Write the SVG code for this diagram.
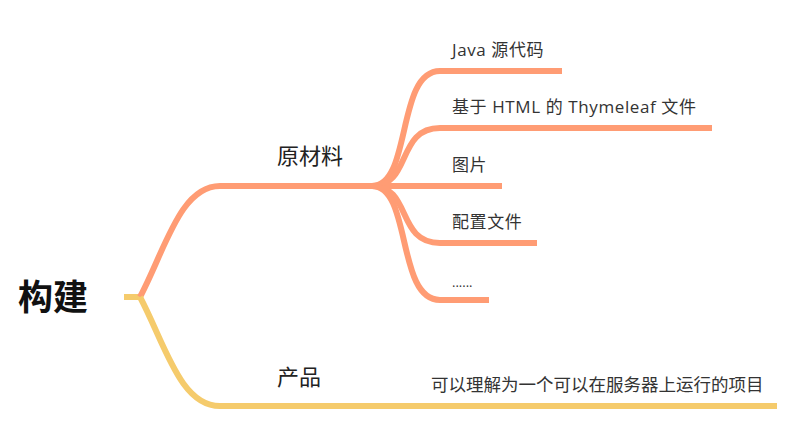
<svg xmlns="http://www.w3.org/2000/svg" width="789" height="429" viewBox="0 0 789 429">
<style>
.o{fill:none;stroke:#FF9C74;stroke-width:6}
.y{fill:none;stroke:#F5CB6C;stroke-width:6}
.t{font-family:"Open Sans","Noto Sans CJK SC",sans-serif;fill:#333}
.s{font-size:17px;letter-spacing:0.6px}
</style>
<rect width="789" height="429" fill="#fff"/>
<g id="connectors">
<path class="y" d="M124,297 L142,297"/>
<path class="o" d="M140,297 C165,250 180,186 220,186 L378,186"/>
<path class="y" d="M140,297 C165,344 180,406 220,406 L777,406"/>
<path class="o" d="M372,186 C412,186 396,71 440,71 L562,71"/>
<path class="o" d="M372,186 C412,186 396,128 440,128 L712,128"/>
<path class="o" d="M372,186 L502,186"/>
<path class="o" d="M372,186 C412,186 396,243 440,243 L537,243"/>
<path class="o" d="M372,186 C412,186 396,300 440,300 L489,300"/>
</g>
<g id="root"><text class="t" x="18" y="310" style="font-size:35px;font-weight:bold;fill:#111">构建</text></g>
<g id="n-raw"><text class="t" x="277" y="164" style="font-size:22px;fill:#222">原材料</text></g>
<g id="n-product"><text class="t" x="277" y="385" style="font-size:22px;fill:#222">产品</text></g>
<g id="n-java"><text class="t s" x="452" y="56">Java 源代码</text></g>
<g id="n-html"><text class="t s" x="452" y="113">基于 HTML 的 Thymeleaf 文件</text></g>
<g id="n-img"><text class="t s" x="452" y="171">图片</text></g>
<g id="n-conf"><text class="t s" x="452" y="228">配置文件</text></g>
<g id="n-more"><text class="t s" x="452" y="287" style="font-size:13px;letter-spacing:0">......</text></g>
<g id="n-desc"><text class="t" x="431" y="391" style="font-size:17.5px">可以理解为一个可以在服务器上运行的项目</text></g>
</svg>
